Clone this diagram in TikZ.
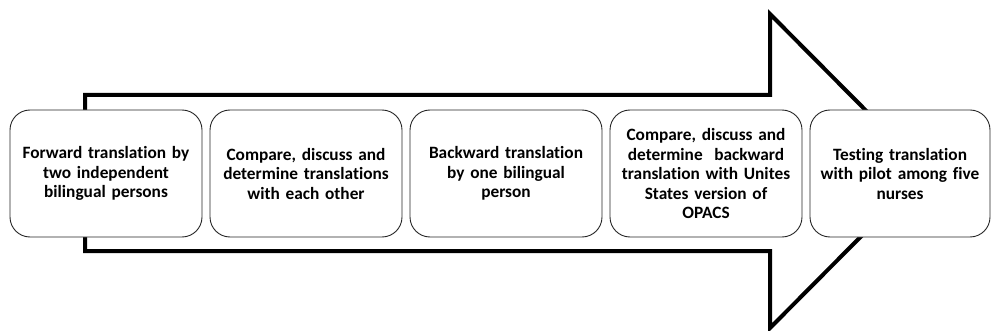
\documentclass[tikz,border=0pt]{standalone}
\usepackage{fontspec}
\setmainfont{Carlito}[Ligatures=NoCommon]
\begin{document}
\begin{tikzpicture}[x=1pt,y=-1pt,
  stage/.style={draw=black!85, line width=0.9pt, fill=white, rounded corners=20pt,
    minimum width=192pt, minimum height=127pt, text width=188pt,
    inner sep=0pt, align=center, font=\bfseries\fontsize{17.3}{19.5}\selectfont}]
  \useasboundingbox (0,0) rectangle (992,331);
  \coordinate (A) at (85,95);
  \coordinate (B) at (770,95);
  \coordinate (C) at (770,14);
  \coordinate (T) at (926,171);
  \coordinate (D) at (770,328);
  \coordinate (E) at (770,251);
  \coordinate (F) at (85,251);
\draw[line width=4pt, miter limit=10] (A)--(B)--(C)--(T)--(D)--(E)--(F)--cycle;
\node[stage] (s1) at (106,173.5) {Forward translation by\\two independent\\bilingual persons};
\node[stage] (s2) at (306,173.5) {Compare, discuss and\\determine translations\\with each other};
\node[stage] (s3) at (506,173.5) {Backward translation\\by one bilingual\\person};
\node[stage] (s4) at (706,173.5) {Compare, discuss and\\determine~ backward\\translation with Unites\\States version of\\OPACS};
\node[stage, minimum width=180pt, text width=178pt] (s5) at (900,173.5) {Testing translation\\with pilot among five\\nurses};
\end{tikzpicture}
\end{document}
